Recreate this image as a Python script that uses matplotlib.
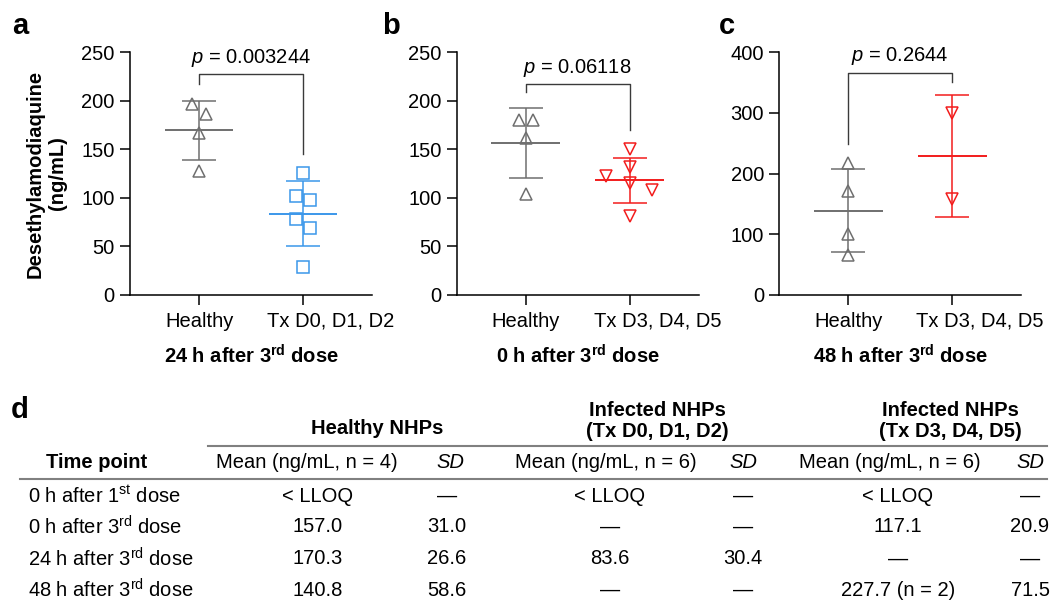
import numpy as np
import matplotlib.pyplot as plt

plt.rcParams['font.family'] = ['Liberation Sans', 'DejaVu Sans']
plt.rcParams['mathtext.fontset'] = 'custom'
plt.rcParams['mathtext.rm'] = 'Liberation Sans'
plt.rcParams['mathtext.it'] = 'Liberation Sans:italic'
plt.rcParams['mathtext.bf'] = 'Liberation Sans:bold'
plt.rcParams['font.size'] = 14.5

GRAY = '#6f6f6f'
BLUE = '#3b97ea'
RED = '#f21c1c'

# ---- panel data (ng/mL) ----
a_healthy = [196.8, 186.6, 167.0, 127.6]
a_healthy_dx = [-0.07, 0.07, 0.0, 0.0]
a_tx = [125.9, 101.5, 97.4, 78.5, 68.9, 28.8]
a_tx_dx = [0.0, -0.068, 0.07, -0.068, 0.07, 0.0]

b_healthy = [179.7, 179.7, 161.5, 104.2]
b_healthy_dx = [-0.068, 0.068, 0.0, 0.0]
b_tx = [149.9, 131.7, 122.4, 115.2, 107.7, 80.9]
b_tx_dx = [0.0, 0.0, -0.228, 0.0, 0.22, 0.0]

c_healthy = [217.8, 170.6, 101.0, 65.3]
c_healthy_dx = [0.0, 0.0, 0.0, 0.0]
c_tx = [300.1, 157.5]
c_tx_dx = [0.0, 0.0]

tx_labels = ['Tx D0, D1, D2', 'Tx D3, D4, D5', 'Tx D3, D4, D5']
titles = [r'24 h after 3$^{\mathbf{rd}}$ dose', r'0 h after 3$^{\mathbf{rd}}$ dose',
          r'48 h after 3$^{\mathbf{rd}}$ dose']
p_values = ['0.003244', '0.06118', '0.2644']
# bracket: top level, left leg end, right leg end
brackets = [(227, 217, 144.7), (217, 208.8, 169.4), (365.4, 249, 350.6)]
ymax = [250, 250, 400]
yticks = [np.arange(0, 251, 50), np.arange(0, 251, 50), np.arange(0, 401, 100)]
tx_colors = [BLUE, RED, RED]
tx_markers = ['s', 'v', 'v']

# ---- table data ----
time_points = [r'0 h after 1$^{\mathrm{st}}$ dose', r'0 h after 3$^{\mathrm{rd}}$ dose',
               r'24 h after 3$^{\mathrm{rd}}$ dose', r'48 h after 3$^{\mathrm{rd}}$ dose']
healthy_mean = ['< LLOQ', '157.0', '170.3', '140.8']
healthy_sd = ['\u2014', '31.0', '26.6', '58.6']
d012_mean = ['< LLOQ', '\u2014', '83.6', '\u2014']
d012_sd = ['\u2014', '\u2014', '30.4', '\u2014']
d345_mean = ['< LLOQ', '117.1', '\u2014', '227.7 (n = 2)']
d345_sd = ['\u2014', '20.9', '\u2014', '71.5']

W, H = 1059, 602
fig = plt.figure(figsize=(W / 100, H / 100), dpi=100)

panel_left = [130, 456.7, 779.3]
ax_w, ax_top, ax_bot = 242, 52, 295

healthy_sets = [(a_healthy, a_healthy_dx), (b_healthy, b_healthy_dx), (c_healthy, c_healthy_dx)]
tx_sets = [(a_tx, a_tx_dx), (b_tx, b_tx_dx), (c_tx, c_tx_dx)]

for i in range(3):
    ax = fig.add_axes([panel_left[i] / W, (H - ax_bot) / H, ax_w / W, (ax_bot - ax_top) / H])
    groups = [(healthy_sets[i], GRAY, '^'), (tx_sets[i], tx_colors[i], tx_markers[i])]
    for x, ((vals, dx), col, mk) in enumerate(groups):
        vals = np.array(vals)
        m, s = vals.mean(), vals.std(ddof=1)
        ax.plot(x + np.array(dx), vals, ls='none', marker=mk, ms=9 if mk != 's' else 8,
                mfc='none', mec=col, mew=1.1, zorder=3)
        ax.errorbar(x, m, yerr=s, fmt='none', ecolor=col, elinewidth=1.1,
                    capsize=12.5, capthick=1.1, zorder=2)
        ax.hlines(m, x - 0.33, x + 0.33, color=col, lw=1.4, zorder=2)
    top, l_end, r_end = brackets[i]
    ax.plot([0, 0, 1, 1], [l_end, top, top, r_end], color='#3a3a3a', lw=1.0, clip_on=False)
    ax.annotate('$p$ = ' + p_values[i], xy=(0.5, top), xytext=(0, 4), textcoords='offset points',
                ha='center', va='bottom', fontsize=14.5, annotation_clip=False)
    ax.set_xlim(-0.665, 1.665)
    ax.set_ylim(0, ymax[i])
    ax.set_yticks(yticks[i])
    ax.set_xticks([0, 1])
    ax.set_xticklabels(['Healthy', ''])
    # the treated-group label sits a little right of its tick in the original
    ax.annotate(tx_labels[i], xy=(1, 0), xycoords=('data', 'axes fraction'),
                xytext=(20, -12), textcoords='offset points', ha='center', va='top',
                fontsize=14.5, annotation_clip=False)
    for sp in ['top', 'right']:
        ax.spines[sp].set_visible(False)
    for sp in ['left', 'bottom']:
        ax.spines[sp].set_linewidth(1.1)
    ax.tick_params(axis='y', length=7, width=1.1, pad=4, labelsize=14.5)
    ax.tick_params(axis='x', length=7, width=1.1, pad=5, labelsize=14.5)
    ax.set_xlabel(titles[i], fontweight='bold', fontsize=14.5, labelpad=10)
    if i == 0:
        ax.text(-0.345, 0.5, 'Desethylamodiaquine\n(ng/mL)', transform=ax.transAxes,
                rotation=90, ha='center', va='center', fontweight='bold', fontsize=14.5,
                multialignment='center')

# overlay in pixel coordinates for panel letters and the table
ov = fig.add_axes([0, 0, 1, 1], zorder=-1)
ov.set_xlim(0, W)
ov.set_ylim(H, 0)
ov.axis('off')

for lab, (x, y) in zip('abcd', [(20, 26), (391, 26), (727, 26), (20, 410)]):
    ov.text(x, y, lab, fontsize=21, fontweight='bold', ha='center', va='center')

# group headers
ov.text(377, 428, 'Healthy NHPs', ha='center', va='center', fontweight='bold')
ov.text(657, 421, 'Infected NHPs\n(Tx D0, D1, D2)', ha='center', va='center',
        fontweight='bold', linespacing=1.1)
ov.text(950, 421, 'Infected NHPs\n(Tx D3, D4, D5)', ha='center', va='center',
        fontweight='bold', linespacing=1.1)
ov.plot([208, 1047], [446, 446], color='#808080', lw=1.5)
ov.plot([20, 1047], [479, 479], color='#808080', lw=1.5)

# column headers
hy = 462
ov.text(97, hy, 'Time point', ha='center', va='center', fontweight='bold')
for x, n in [(307, 4), (606, 6), (890, 6)]:
    ov.text(x, hy, 'Mean (ng/mL, n = %d)' % n, ha='center', va='center')
for x in [450, 743, 1030]:
    ov.text(x, hy, 'SD', ha='center', va='center', fontstyle='italic')

row_y = [496, 527, 559, 590]
cols = [(318, healthy_mean), (447, healthy_sd), (610, d012_mean), (743, d012_sd),
        (898, d345_mean), (1030, d345_sd)]
for r, y in enumerate(row_y):
    ov.text(28, y, time_points[r], ha='left', va='center')
    for x, col in cols:
        ov.text(x, y, col[r], ha='center', va='center')

fig.savefig('out.png', dpi=100)
